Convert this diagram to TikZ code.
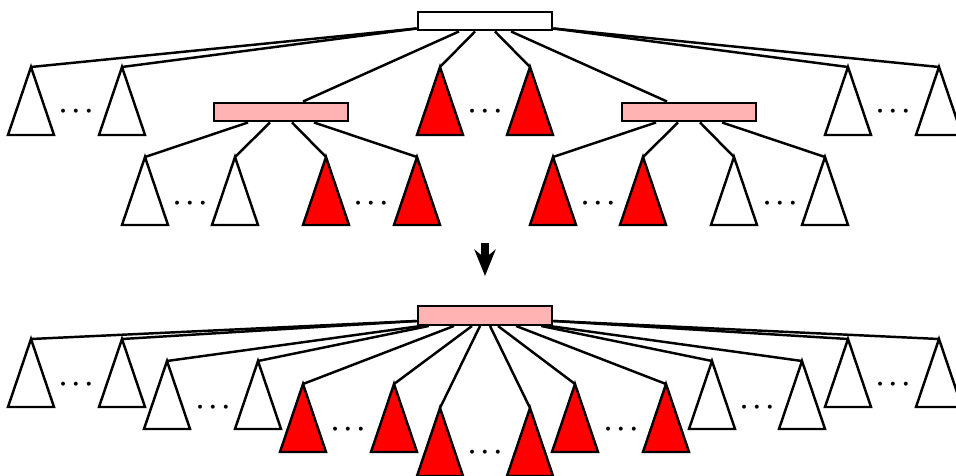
\documentclass[tikz,border=0pt]{standalone}
\usetikzlibrary{calc,arrows.meta}
\definecolor{lightpink}{RGB}{255,179,179}
\tikzset{
  box/.style={draw, line width=1.4pt, minimum width=2.68cm, minimum height=0.37cm, inner sep=0pt},
  edge/.style={line width=1.4pt},
  whitetree/.style={draw, line width=1.4pt, fill=white, line join=miter},
  redtree/.style={whitetree, fill=red},
  dots/.style={font=\Large\boldmath, inner sep=0pt, anchor=base, yshift=-3.6pt}
}
\newcommand{\subtree}[3]{%
  \coordinate (#1) at #2;
  \draw[#3] (#1) -- ++(-23,68) -- ++(46,0) -- cycle;
}
\begin{document}
\begin{tikzpicture}[x=0.02cm, y=-0.02cm]
  \useasboundingbox (0,0) rectangle (956,476);
  % before
  \node[box, fill=white] (root) at (485,21) {};
  \node[box, fill=lightpink] (lpink) at (281,112) {};
  \node[box, fill=lightpink] (rpink) at (689,112) {};
  \subtree{w1}{(31,67)}{whitetree}
  \subtree{w2}{(122,67)}{whitetree}
  \subtree{r1}{(440,67)}{redtree}
  \subtree{r2}{(530,67)}{redtree}
  \subtree{w3}{(848,67)}{whitetree}
  \subtree{w4}{(939,67)}{whitetree}
  \subtree{lw1}{(145,157)}{whitetree}
  \subtree{lw2}{(235,157)}{whitetree}
  \subtree{lr1}{(326,157)}{redtree}
  \subtree{lr2}{(417,157)}{redtree}
  \subtree{rr1}{(553,157)}{redtree}
  \subtree{rr2}{(643,157)}{redtree}
  \subtree{rw1}{(734,157)}{whitetree}
  \subtree{rw2}{(825,157)}{whitetree}
  \begin{scope}[edge]
    \draw ($(root.south west)+(0,-3)$) -- (w1);
    \draw ($(root.south west)+(0,-3)$) -- (w2);
    \draw ($(root.south)+(-26,0)$) -- ($(lpink.north)+(22,0)$);
    \draw ($(root.south)+(-10,0)$) -- (r1);
    \draw ($(root.south)+(10,0)$) -- (r2);
    \draw ($(root.south)+(26,0)$) -- ($(rpink.north)+(-22,0)$);
    \draw ($(root.south east)+(0,-3)$) -- (w3);
    \draw ($(root.south east)+(0,-3)$) -- (w4);
    \draw ($(lpink.south)+(-33,0)$) -- (lw1);
    \draw ($(lpink.south)+(-11,0)$) -- (lw2);
    \draw ($(lpink.south)+(11,0)$) -- (lr1);
    \draw ($(lpink.south)+(33,0)$) -- (lr2);
    \draw ($(rpink.south)+(-33,0)$) -- (rr1);
    \draw ($(rpink.south)+(-11,0)$) -- (rr2);
    \draw ($(rpink.south)+(11,0)$) -- (rw1);
    \draw ($(rpink.south)+(33,0)$) -- (rw2);
  \end{scope}
  \node[dots] (d1) at (76,111) {$\cdots$};
  \node[dots] (d2) at (485,111) {$\cdots$};
  \node[dots] (d3) at (893,111) {$\cdots$};
  \node[dots] (d4) at (190,203) {$\cdots$};
  \node[dots] (d5) at (371,203) {$\cdots$};
  \node[dots] (d6) at (598,203) {$\cdots$};
  \node[dots] (d7) at (780,203) {$\cdots$};
  % arrow
  \coordinate (from) at (485,243);
  \coordinate (to) at (485,276);
  \draw[line width=4.5pt, -{Stealth[length=15pt, width=12pt]}] (from) -- (to);
  % after
  \node[box, fill=lightpink] (merged) at (485,315.5) {};
  \subtree{a1}{(31,339)}{whitetree}
  \subtree{a2}{(122,339)}{whitetree}
  \subtree{a3}{(848,339)}{whitetree}
  \subtree{a4}{(939,339)}{whitetree}
  \subtree{b1}{(167,361)}{whitetree}
  \subtree{b2}{(258,361)}{whitetree}
  \subtree{b3}{(712,361)}{whitetree}
  \subtree{b4}{(802,361)}{whitetree}
  \subtree{c1}{(303,384)}{redtree}
  \subtree{c2}{(394,384)}{redtree}
  \subtree{c3}{(575,384)}{redtree}
  \subtree{c4}{(666,384)}{redtree}
  \subtree{e1}{(440,408)}{redtree}
  \subtree{e2}{(530,408)}{redtree}
  \begin{scope}[edge]
    \draw ($(merged.south west)+(0,-5)$) -- (a1);
    \draw ($(merged.south west)+(0,-5)$) -- (a2);
    \draw ($(merged.south west)+(4,0)$) -- (b1);
    \draw ($(merged.south west)+(12,0)$) -- (b2);
    \draw ($(merged.south)+(-31,0)$) -- (c1);
    \draw ($(merged.south)+(-13,0)$) -- (c2);
    \draw ($(merged.south)+(-5,0)$) -- (e1);
    \draw ($(merged.south)+(5,0)$) -- (e2);
    \draw ($(merged.south)+(13,0)$) -- (c3);
    \draw ($(merged.south)+(31,0)$) -- (c4);
    \draw ($(merged.south east)+(-12,0)$) -- (b3);
    \draw ($(merged.south east)+(-4,0)$) -- (b4);
    \draw ($(merged.south east)+(0,-5)$) -- (a3);
    \draw ($(merged.south east)+(0,-5)$) -- (a4);
  \end{scope}
  \node[dots] (f1) at (76,384) {$\cdots$};
  \node[dots] (f2) at (893,384) {$\cdots$};
  \node[dots] (f3) at (213,407) {$\cdots$};
  \node[dots] (f4) at (757,407) {$\cdots$};
  \node[dots] (f5) at (348,429) {$\cdots$};
  \node[dots] (f6) at (621,429) {$\cdots$};
  \node[dots] (f7) at (485,452) {$\cdots$};
\end{tikzpicture}
\end{document}
